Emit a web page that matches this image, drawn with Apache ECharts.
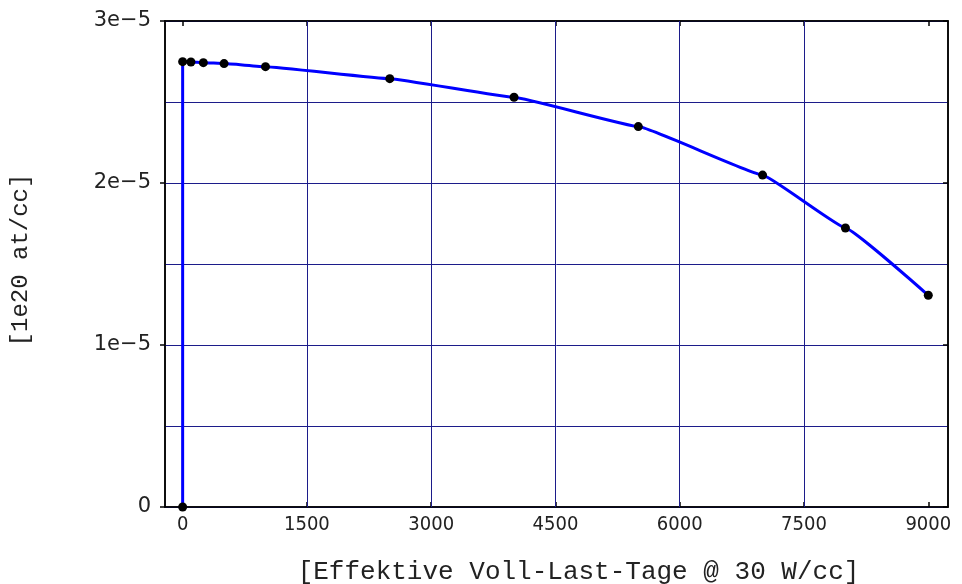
<!DOCTYPE html>
<html>
<head>
<meta charset="utf-8">
<script src="https://cdn.jsdelivr.net/npm/echarts@6/dist/echarts.min.js"></script>
<style>
  html, body { margin: 0; padding: 0; background: #fff; }
  #chart { width: 962px; height: 584px; }
</style>
</head>
<body>
<div id="chart"></div>
<script>
// Burn-up days (effective full-load days at 30 W/cc)
const days = [0, 0, 100, 250, 500, 1000, 2500, 4000, 5500, 7000, 8000, 9000];
// Concentration in units of 1e20 atoms/cc
const conc = [0, 2.749e-5, 2.747e-5, 2.743e-5, 2.737e-5, 2.718e-5, 2.644e-5,
              2.529e-5, 2.348e-5, 2.049e-5, 1.722e-5, 1.307e-5];

// Axis tick positions and grid line positions
const xTicks = [0, 1500, 3000, 4500, 6000, 7500, 9000];
const xGridLines = [1500, 3000, 4500, 6000, 7500];
const yTicks = [0, 1e-5, 2e-5, 3e-5];
const yGridStep = 0.5e-5;

const xTitle = '[Effektive Voll-Last-Tage @ 30 W/cc]';
const yTitle = '[1e20 at/cc]';

const points = days.map((d, i) => [d, conc[i]]);

const xTickFont = { fontFamily: '"DejaVu Sans Condensed", "DejaVu Sans Mono", sans-serif', fontSize: 20, color: '#222' };
const yTickFont = { fontFamily: '"DejaVu Sans", sans-serif', fontSize: 21, color: '#222' };
const titleFont = { fontFamily: '"Liberation Mono", monospace', fontSize: 26, color: '#222' };
const gridColor = '#1c1c8a';
const frame = { color: '#000', width: 1.5 };

function yFmt(v) {
  const n = Math.round(v * 1e5);
  return n === 0 ? '0' : n + 'e\u22125';
}
function xFmt(v) {
  return String(Math.round(v));
}

const chart = echarts.init(document.getElementById('chart'), null, { renderer: 'canvas' });

chart.setOption({
  animation: false,
  backgroundColor: '#fff',
  grid: {
    left: 165, right: 14, top: 21, bottom: 77,
    outerBoundsMode: 'none',
    containLabel: false,
    show: true, borderColor: '#000', borderWidth: 1.5, backgroundColor: 'transparent'
  },
  xAxis: [{
    type: 'value', min: -213, max: 9238, position: 'bottom',
    axisLine: { show: true, onZero: false, lineStyle: frame },
    axisTick: { show: true, inside: true, length: 5, customValues: xTicks, lineStyle: frame },
    axisLabel: { show: true, margin: 8, customValues: xTicks, formatter: xFmt, ...xTickFont },
    splitLine: { show: false },
    name: xTitle, nameLocation: 'middle', nameGap: 52,
    nameTextStyle: { ...titleFont, padding: [0, 0, 0, 44] }
  }, {
    type: 'value', min: -213, max: 9238, position: 'top',
    axisLine: { show: true, onZero: false, lineStyle: frame },
    axisTick: { show: true, inside: true, length: 5, customValues: xTicks, lineStyle: frame },
    axisLabel: { show: false },
    splitLine: { show: false }
  }],
  yAxis: [{
    type: 'value', min: 0, max: 3e-5, position: 'left',
    axisLine: { show: true, onZero: false, lineStyle: frame },
    axisTick: { show: true, inside: false, length: 5, customValues: yTicks, lineStyle: frame },
    axisLabel: { show: true, margin: 14, customValues: yTicks, formatter: yFmt, ...yTickFont },
    splitLine: { show: false },
    name: yTitle, nameLocation: 'middle', nameGap: 122, nameRotate: 90,
    nameTextStyle: { ...titleFont, fontSize: 24, padding: [0, 0, 10, 8] }
  }, {
    type: 'value', min: 0, max: 3e-5, position: 'right',
    axisLine: { show: true, onZero: false, lineStyle: frame },
    axisTick: { show: true, inside: true, length: 5, customValues: yTicks, lineStyle: frame },
    axisLabel: { show: false },
    splitLine: { show: false }
  }, {
    // horizontal grid every half step
    type: 'value', min: 0, max: 3e-5, interval: yGridStep, position: 'left',
    axisLine: { show: false }, axisTick: { show: false }, axisLabel: { show: false },
    splitLine: { show: true, lineStyle: { color: gridColor, width: 1 } }
  }],
  series: [{
    type: 'line',
    data: points,
    smooth: 0.08,
    smoothMonotone: 'x',
    showSymbol: true,
    symbol: 'circle',
    symbolSize: 9,
    itemStyle: { color: '#000' },
    lineStyle: { color: '#0000ff', width: 3 },
    z: 5,
    markLine: {
      silent: true,
      symbol: ['none', 'none'],
      label: { show: false },
      lineStyle: { color: gridColor, width: 1, type: 'solid' },
      animation: false,
      z: 1,
      data: xGridLines.map(v => ({ xAxis: v }))
    }
  }]
});
</script>
</body>
</html>
